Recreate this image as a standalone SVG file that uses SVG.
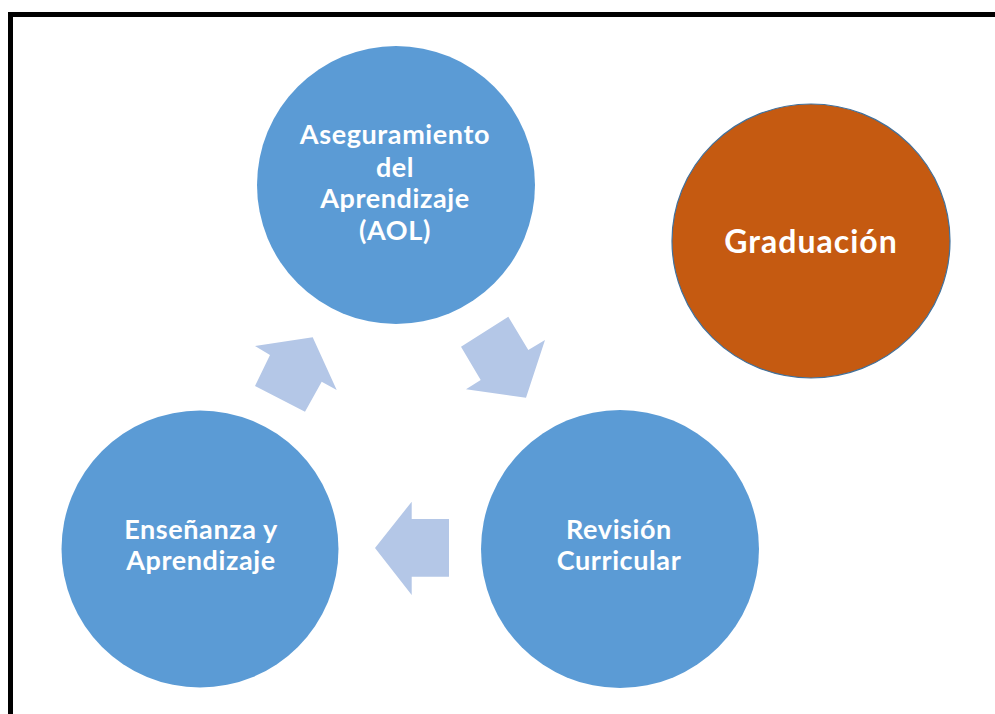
<svg xmlns="http://www.w3.org/2000/svg" width="995" height="714" viewBox="0 0 995 714">
<style>
.node{fill:#5B9BD5;}
.lbl{font-family:Lato,"Liberation Sans",sans-serif;font-weight:bold;fill:#FFFFFF;text-anchor:middle;font-size:27px;letter-spacing:0.6px;}
.arrow{fill:#B4C7E7;}
</style>
<rect x="0" y="0" width="995" height="714" fill="#FFFFFF"/>
<rect x="10.5" y="14.5" width="1000" height="720" fill="none" stroke="#000000" stroke-width="5"/>
<g id="connectors">
<polygon class="arrow" points="312.7,337.3 336.7,390 321.7,381.7 305,411.7 255,386 270,355 255,346"/>
<polygon class="arrow" points="508.3,316.7 528.3,350 545,340 526,397.7 466,389.3 480.7,380 461,346.7"/>
<polygon class="arrow" points="375,548 411.7,501.7 411.7,519 449,519 449,576.7 411.7,576.7 411.7,595"/>
</g>
<g id="aol">
<circle class="node" cx="396" cy="185" r="139"/>
<text class="lbl"><tspan x="395" y="144">Aseguramiento</tspan><tspan x="395" y="176.5">del</tspan><tspan x="395" y="208">Aprendizaje</tspan><tspan x="395" y="240">(AOL)</tspan></text>
</g>
<g id="revision">
<circle class="node" cx="620" cy="549" r="139"/>
<text class="lbl"><tspan x="619" y="539">Revisión</tspan><tspan x="619" y="570">Curricular</tspan></text>
</g>
<g id="ensenanza">
<circle class="node" cx="200" cy="549" r="138.5"/>
<text class="lbl"><tspan x="201" y="539">Enseñanza y</tspan><tspan x="201" y="570">Aprendizaje</tspan></text>
</g>
<g id="graduacion">
<ellipse cx="811" cy="241" rx="139" ry="137" fill="#C55A11" stroke="#41719C" stroke-width="1.2"/>
<text class="lbl" x="811" y="253" style="font-size:32px;letter-spacing:1px">Graduación</text>
</g>
</svg>
